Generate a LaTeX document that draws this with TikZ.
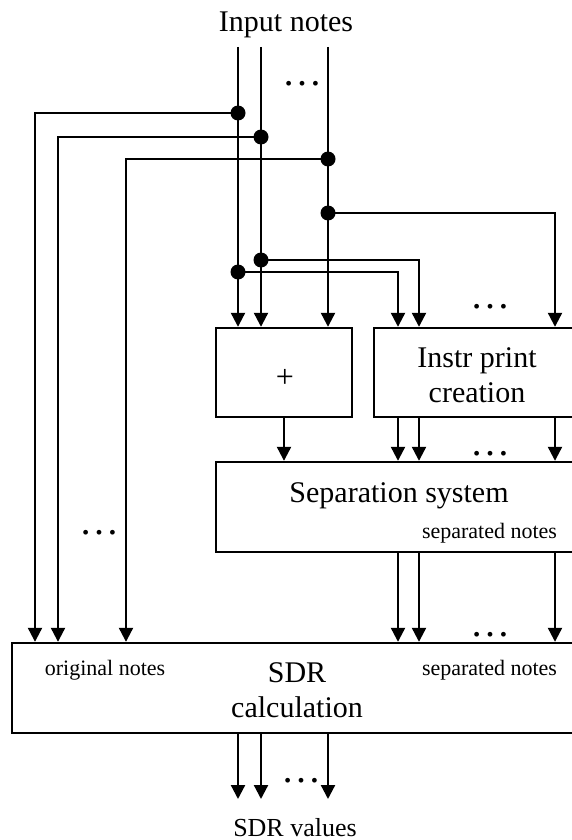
\documentclass[tikz,border=0pt]{standalone}
\usepackage{fontspec}
\setmainfont{Liberation Serif}
\usetikzlibrary{arrows.meta}
\begin{document}
\begin{tikzpicture}[x=1pt,y=-1pt,
 wire/.style={line width=2.2pt},
 arr/.style={wire,-{Triangle[length=14pt,width=14pt]}},
 box/.style={draw,line width=2.4pt,inner sep=0pt},
 jdot/.style={circle,fill,inner sep=0pt,minimum size=15pt},
 bigtxt/.style={font=\fontsize{30}{36}\selectfont,anchor=base,inner sep=0pt},
 midtxt/.style={font=\fontsize{26}{30}\selectfont,anchor=base,inner sep=0pt},
 smalltxt/.style={font=\fontsize{22}{26}\selectfont,anchor=base,inner sep=0pt},
 ell/.style={font=\fontsize{40}{40}\selectfont,anchor=base,inner sep=0pt}]
\useasboundingbox (0,0) rectangle (572,840);
\clip (0,0) rectangle (572,840);

% boxes
\node[box,minimum width=136pt,minimum height=89pt] (plus) at (284,372.5) {};
\node[box,minimum width=206pt,minimum height=89pt] (instr) at (477,372.5) {};
\node[box,minimum width=366pt,minimum height=90pt] (sep) at (399,507) {};
\node[box,minimum width=570pt,minimum height=90pt] (sdr) at (297,688) {};

% texts
\node[bigtxt] (tin) at (286,32) {Input notes};
\node[font=\fontsize{32}{36}\selectfont,inner sep=0pt] (tplus) at (285,378) {+};
\node[bigtxt] (tinstr1) at (477,367) {Instr print};
\node[bigtxt] (tinstr2) at (477,402) {creation};
\node[bigtxt] (tsep) at (399,502) {Separation system};
\node[smalltxt] (tsepout) at (489.5,538) {separated notes};
\node[bigtxt] (tsdr1) at (297,682) {SDR};
\node[bigtxt] (tsdr2) at (297,717) {calculation};
\node[smalltxt] (torig) at (105,675) {original notes};
\node[smalltxt] (tsepin) at (489.5,675) {separated notes};
\node[midtxt] (tout) at (295,836) {SDR values};

% ellipses
\node[ell] (e1) at (302,86) {…};
\node[ell] (e2) at (490,308) {…};
\node[ell] (e3) at (490,455) {…};
\node[ell] (e4) at (490,636) {…};
\node[ell] (e5) at (99,534) {…};
\node[ell] (e6) at (301,782) {…};

% coordinates
\coordinate (in1) at (238,47);
\coordinate (in2) at (261,47);
\coordinate (in3) at (328,47);
\coordinate (l1) at (35,0);
\coordinate (l2) at (58,0);
\coordinate (l3) at (126,0);
\coordinate (r1) at (398,0);
\coordinate (r2) at (419,0);
\coordinate (r3) at (555,0);
\coordinate (o1) at (238,799);
\coordinate (o2) at (261,799);
\coordinate (o3) at (328,799);

% junctions
\node[jdot] (j1) at (238,113) {};
\node[jdot] (j2) at (261,137) {};
\node[jdot] (j3) at (328,159) {};
\node[jdot] (j4) at (328,213) {};
\node[jdot] (j5) at (261,260) {};
\node[jdot] (j6) at (238,272) {};

% wires
\draw[arr] (in1) -- (in1 |- plus.north);
\draw[arr] (in2) -- (in2 |- plus.north);
\draw[arr] (in3) -- (in3 |- plus.north);
\draw[arr] (j1.center) -| (l1 |- sdr.north);
\draw[arr] (j2.center) -| (l2 |- sdr.north);
\draw[arr] (j3.center) -| (l3 |- sdr.north);
\draw[arr] (j4.center) -| (r3 |- instr.north);
\draw[arr] (j5.center) -| (r2 |- instr.north);
\draw[arr] (j6.center) -| (r1 |- instr.north);
\draw[arr] (plus.south) -- (plus.south |- sep.north);
\foreach \r in {r1,r2,r3}{
  \draw[arr] (\r |- instr.south) -- (\r |- sep.north);
  \draw[arr] (\r |- sep.south) -- (\r |- sdr.north);
}
\foreach \o in {o1,o2,o3}{
  \draw[arr] (\o |- sdr.south) -- (\o);
}
\end{tikzpicture}
\end{document}
